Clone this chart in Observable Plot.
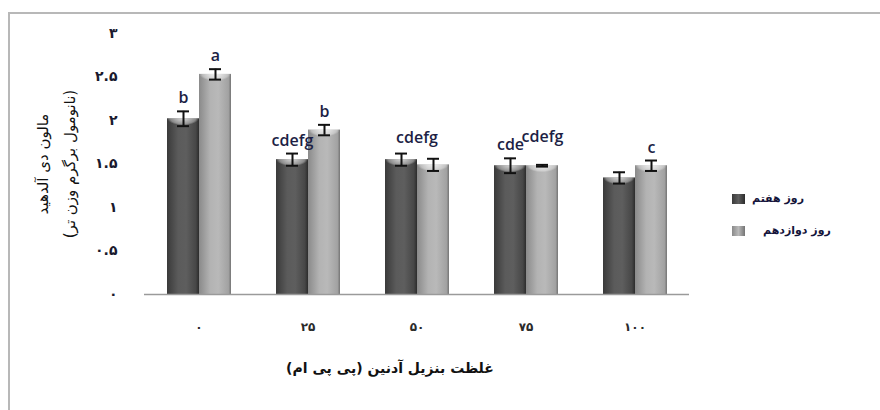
<!DOCTYPE html>
<html lang="fa">
<head>
<meta charset="utf-8">
<script src="https://cdn.jsdelivr.net/npm/d3@7"></script>
<script src="https://cdn.jsdelivr.net/npm/@observablehq/plot@0.6"></script>
<style>
  html, body { margin: 0; padding: 0; background: #fff; }
  #chart { position: relative; width: 880px; height: 410px; overflow: hidden; font-family: "DejaVu Sans", sans-serif; }
  #frame { position: absolute; left: 8px; top: 12px; width: 900px; height: 420px;
           border-top: 2px solid #b8b8b8; border-left: 2px solid #b8b8b8; }
  #chart svg { position: absolute; left: 0; top: 0; }
  .ytitle { position: absolute; left: 57px; top: 164px; width: 220px; transform: translate(-50%, -50%) rotate(-90deg);
            direction: rtl; text-align: center; font-size: 15px; line-height: 27px; color: #111; }
  .xtitle { position: absolute; left: 390px; top: 368px; transform: translate(-50%, -50%);
            direction: rtl; font-size: 14px; font-weight: bold; color: #111; white-space: nowrap; }
  .legend-item { position: absolute; display: flex; align-items: center; font-size: 11px; font-weight: bold; color: #14143a; }
  .legend-item .sw { width: 13px; height: 10px; margin-right: 7px; }
  .legend-item span { direction: rtl; }
  g[aria-label="letters"] text, g[aria-label="shared letters"] text { letter-spacing: 2px; }
  g[aria-label="y-axis tick label"] text { letter-spacing: 4px; }
  g[aria-label="fx-axis tick label"] text { letter-spacing: 3px; }
</style>
</head>
<body>
<div id="chart">
  <div id="frame"></div>
</div>
<script>
// Benzyl adenine concentrations (ppm) and malondialdehyde content per day
const concentrations = [0, 25, 50, 75, 100];
const day7 = [2.02, 1.55, 1.55, 1.48, 1.34];
const day7Err = [0.085, 0.07, 0.07, 0.085, 0.065];
const day12 = [2.53, 1.89, 1.49, 1.48, 1.48];
const day12Err = [0.06, 0.06, 0.07, 0.01, 0.06];
// Mean-separation letters; shared ones belong to both bars of a concentration
const letters7 = ["b", "cdefg", "", "cde", ""];
const letters12 = ["a", "b", "", "cdefg", "c"];
const sharedLetters = ["", "", "cdefg", "", ""];
const yTicks = [0, 0.5, 1, 1.5, 2, 2.5, 3];
const seriesNames = ["روز هفتم", "روز دوازدهم"];
const yTitle = ["مالون دی آلدهید", "(نانومول برگرم وزن تر)"];
const xTitle = "غلظت بنزیل آدنین (پی پی ام)";

const fa = (v) => String(v).replace(/\d/g, (c) => "۰۱۲۳۴۵۶۷۸۹"[c]);

const rows = [];
concentrations.forEach((c, i) => {
  rows.push({conc: c, day: "d7", value: day7[i], err: day7Err[i], letter: letters7[i]});
  rows.push({conc: c, day: "d12", value: day12[i], err: day12Err[i], letter: letters12[i]});
});
// Raise the second label of a pair when both sit at about the same height
const errTop = (d) => d.value + d.err;
const errBottom = (d) => d.value - d.err;
rows.forEach((d) => {
  const other = rows.find((o) => o.conc === d.conc && o.day !== d.day);
  d.raised = Boolean(d.day === "d12" && d.letter && other.letter && Math.abs(errTop(d) - errTop(other)) < 0.15);
});
const shared = concentrations
  .map((c, i) => ({conc: c, letter: sharedLetters[i],
    y: Math.max(...rows.filter((r) => r.conc === c).map(errTop))}))
  .filter((d) => d.letter);

const letterStyle = {fontSize: 16, fontFamily: "Open Sans", fontWeight: 600, fill: "#1d1f45"};

const plot = Plot.plot({
  width: 880,
  height: 410,
  marginLeft: 144,
  marginRight: 191,
  marginTop: 33,
  marginBottom: 116,
  style: {fontFamily: "DejaVu Sans", background: "transparent"},
  fx: {domain: concentrations, padding: 0},
  x: {domain: ["d7", "d12"], paddingInner: 0, paddingOuter: 0.68, axis: null},
  y: {domain: [0, 3]},
  color: {domain: ["d7", "d12"], range: ["url(#barDark)", "url(#barLight)"]},
  marks: [
    Plot.axisY([], {tickSize: 0, line: true, stroke: "#a0a0a0", strokeWidth: 1.5, label: null}),
    Plot.axisY(yTicks, {tickSize: 0, tickPadding: 27, tickFormat: fa, fontSize: 14, fontWeight: "bold",
      color: "#1a1a2e", label: null}),
    Plot.axisFx({anchor: "bottom", tickSize: 0, tickPadding: 28, tickFormat: fa, fontSize: 12, fontWeight: "bold",
      color: "#2a2a2a", label: null}),
    Plot.barY(rows, {fx: "conc", x: "day", y: "value", fill: "day"}),
    Plot.barY(rows, {fx: "conc", x: "day", y1: (d) => d.value - 0.08, y2: "value", fill: "url(#barCap)"}),
    Plot.ruleY([0], {stroke: "#9a9a9a", strokeWidth: 1.5}),
    Plot.ruleX(rows, {fx: "conc", x: "day", y1: errBottom, y2: errTop, stroke: "#111", strokeWidth: 2}),
    Plot.tickY(rows, {fx: "conc", x: "day", y: errTop, stroke: "#111", strokeWidth: 2, insetLeft: 10, insetRight: 10}),
    Plot.tickY(rows, {fx: "conc", x: "day", y: errBottom, stroke: "#111", strokeWidth: 2, insetLeft: 10, insetRight: 10}),
    Plot.text(rows.filter((d) => d.letter && !d.raised), {fx: "conc", x: "day", y: errTop, text: "letter", dy: -13,
      ariaLabel: "letters", ...letterStyle}),
    Plot.text(rows.filter((d) => d.raised), {fx: "conc", x: "day", y: errTop, text: "letter", dy: -28,
      ariaLabel: "letters", ...letterStyle}),
    Plot.text(shared, {fx: "conc", y: "y", text: "letter", dy: -16, ariaLabel: "shared letters", ...letterStyle})
  ]
});

// Cylinder-like shading of the bars
plot.insertAdjacentHTML("afterbegin", `
<defs>
  <linearGradient id="barDark" x1="0" x2="1" y1="0" y2="0">
    <stop offset="0" stop-color="#3a3a3a"/>
    <stop offset="0.35" stop-color="#5b5b5b"/>
    <stop offset="0.6" stop-color="#5e5e5e"/>
    <stop offset="0.9" stop-color="#474747"/>
    <stop offset="1" stop-color="#2c2c2c"/>
  </linearGradient>
  <linearGradient id="barLight" x1="0" x2="1" y1="0" y2="0">
    <stop offset="0" stop-color="#8a8a8a"/>
    <stop offset="0.35" stop-color="#b3b3b3"/>
    <stop offset="0.6" stop-color="#b9b9b9"/>
    <stop offset="0.92" stop-color="#a2a2a2"/>
    <stop offset="1" stop-color="#747474"/>
  </linearGradient>
  <radialGradient id="barCap" cx="0.5" cy="0" r="0.5" gradientTransform="translate(0.5 0) scale(1 2) translate(-0.5 0)">
    <stop offset="0" stop-color="#ffffff" stop-opacity="0.75"/>
    <stop offset="0.8" stop-color="#ffffff" stop-opacity="0.35"/>
    <stop offset="1" stop-color="#ffffff" stop-opacity="0"/>
  </radialGradient>
</defs>`);

const chart = document.getElementById("chart");
chart.appendChild(plot);

const yt = document.createElement("div");
yt.className = "ytitle";
yt.innerHTML = yTitle.map((t) => `<div>${t}</div>`).join("");
chart.appendChild(yt);

const xt = document.createElement("div");
xt.className = "xtitle";
xt.textContent = xTitle;
chart.appendChild(xt);

const swatches = ["linear-gradient(90deg,#3a3a3a,#5e5e5e 50%,#2c2c2c)", "linear-gradient(90deg,#8a8a8a,#b9b9b9 50%,#747474)"];
const legendPos = [[732, 192], [732, 224]];
seriesNames.forEach((name, i) => {
  const item = document.createElement("div");
  item.className = "legend-item";
  item.style.left = legendPos[i][0] + "px";
  item.style.top = legendPos[i][1] + "px";
  item.innerHTML = `<div class="sw" style="background:${swatches[i]}"></div><span style="margin-left:${i ? 11 : 0}px">${name}</span>`;
  chart.appendChild(item);
});
</script>
</body>
</html>
